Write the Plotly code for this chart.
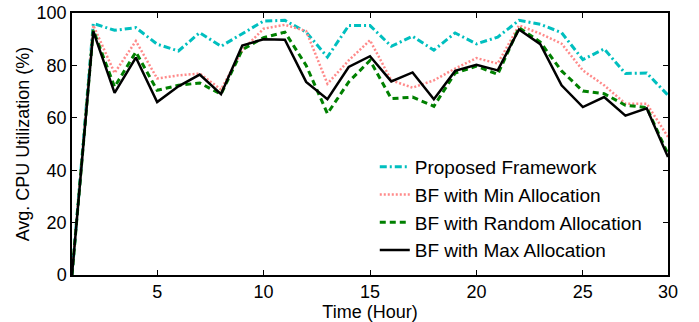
import plotly.graph_objects as go

hours = list(range(1, 30))
proposed = [0, 96.0, 93.4, 94.4, 88.1, 85.5, 92.5, 87.3, 92.1, 96.9, 97.2, 92.7, 83.2, 95.2, 95.2,
            87.3, 91.1, 85.8, 92.4, 88.2, 90.8, 97.2, 95.7, 92.5, 82.2, 86.3, 76.9, 77.1, 68.6]
bf_min = [0, 95.3, 77.1, 89.3, 75.0, 76.2, 76.9, 70.8, 85.8, 94.0, 95.5, 93.1, 73.0, 81.9, 89.6,
          74.3, 71.5, 74.3, 78.8, 82.8, 80.7, 95.3, 92.1, 88.3, 78.1, 72.4, 65.4, 65.4, 52.7]
bf_random = [0, 93.5, 71.8, 85.1, 70.5, 72.4, 73.3, 69.0, 86.0, 90.6, 92.7, 80.0, 61.6, 73.7, 81.9,
             67.3, 67.9, 64.4, 77.1, 79.7, 76.6, 94.4, 88.9, 77.9, 70.2, 69.2, 64.8, 63.9, 46.1]
bf_max = [0, 93.0, 69.5, 83.0, 66.0, 72.0, 76.5, 69.0, 87.6, 90.0, 89.8, 73.7, 67.1, 79.4, 83.5,
          73.9, 77.3, 67.1, 77.9, 80.2, 78.1, 93.7, 88.1, 72.4, 64.1, 67.9, 60.8, 63.6, 45.0]

x_tickvals = [5, 10, 15, 20, 25, 29]
x_ticktext = ["5", "10", "15", "20", "25", "30"]
y_tickvals = [0, 20, 40, 60, 80, 100]

fig = go.Figure()
fig.add_trace(go.Scatter(x=hours, y=proposed, mode="lines", name="Proposed Framework",
                         line=dict(color="#00BFBF", width=3, dash="7px,3px,2px,3px")))
fig.add_trace(go.Scatter(x=hours, y=bf_min, mode="lines", name="BF with Min Allocation",
                         line=dict(color="#FF8A8A", width=2.5, dash="2px,2px")))
fig.add_trace(go.Scatter(x=hours, y=bf_random, mode="lines", name="BF with Random Allocation",
                         line=dict(color="#008000", width=3, dash="6px,4px")))
fig.add_trace(go.Scatter(x=hours, y=bf_max, mode="lines", name="BF with Max Allocation",
                         line=dict(color="black", width=2.5)))

font = dict(family="Liberation Sans, Arial, sans-serif", size=18, color="black")
legend_font = dict(family="Liberation Sans, Arial, sans-serif", size=19, color="black")

fig.update_layout(
    width=699, height=322,
    margin=dict(l=72, r=31, t=13, b=47),
    paper_bgcolor="white", plot_bgcolor="white",
    font=font,
    showlegend=True,
    legend=dict(x=0.508, y=0.485, xanchor="left", yanchor="top",
                bgcolor="rgba(0,0,0,0)", font=legend_font, tracegroupgap=0,
                itemwidth=30),
    xaxis=dict(range=[1, 29], tickvals=x_tickvals, ticktext=x_ticktext,
               ticks="inside", ticklen=5, tickcolor="black", tickwidth=1,
               showline=True, linecolor="black", linewidth=1.5, mirror="ticks",
               showgrid=False, zeroline=False, automargin=False,
               title=dict(text="Time (Hour)", standoff=0, font=font)),
    yaxis=dict(range=[0, 100], tickvals=y_tickvals,
               ticks="inside", ticklen=5, tickcolor="black", tickwidth=1,
               showline=True, linecolor="black", linewidth=1.5, mirror="ticks",
               showgrid=False, zeroline=False, automargin=False,
               title=dict(text="Avg. CPU Utilization (%)", standoff=2, font=font)),
)

fig.write_html("out.html",
               config={"displayModeBar": False},
               post_script="document.body.style.margin='0';document.body.style.overflow='hidden';")
